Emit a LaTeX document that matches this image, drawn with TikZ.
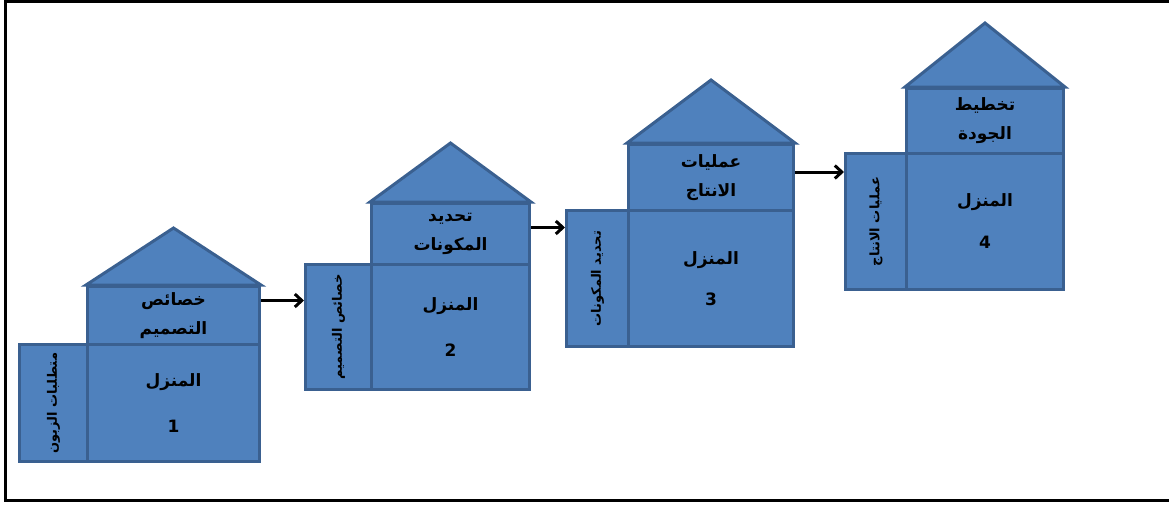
\documentclass[tikz,border=0pt]{standalone}
\usepackage{fontspec}
\usepackage{tikz}
\usetikzlibrary{arrows.meta}
\TeXXeTstate=1
\newfontfamily\arabicfont[Script=Arabic]{DejaVu Sans}
\newcommand{\artext}[1]{\beginR #1\endR}
\definecolor{houseblue}{HTML}{4F81BD}
\definecolor{houseedge}{HTML}{3A6090}
\tikzstyle{wall} = [draw=houseedge, fill=houseblue, line width=3pt, inner sep=0pt, anchor=north west]
\tikzstyle{roof} = [draw=houseedge, fill=houseblue, line width=3pt]
\tikzstyle{roomtext} = [font=\arabicfont\bfseries\fontsize{17}{29}\selectfont, align=center]
\tikzstyle{sidetext} = [font=\arabicfont\bfseries\fontsize{13}{15}\selectfont, rotate=90, inner sep=0pt]
\tikzstyle{flow} = [draw, -{Straight Barb[length=7pt,width=13pt]}, line width=3pt]

\begin{document}
\begin{tikzpicture}[x=1pt, y=-1pt]
	\useasboundingbox (0,0) rectangle (1169,506);
	% -------------- frame --------------
	\draw[line width=3pt] (1169,1.5) -- (5,1.5) -- (5,500) -- (1169,500);
	% -------------- House 1 --------------
	\node[wall, minimum width=68,  minimum height=117] (side1) at (18,343) {};
	\node[wall, minimum width=172, minimum height=58, roomtext]  (top1)  at (86,285) {\artext{خصائص}\\\artext{التصميم}};
	\node[wall, minimum width=172, minimum height=117, roomtext] (room1) at (86,343) {\artext{المنزل}\\[17pt]1};
	\draw[roof] (top1.north west) -- ([yshift=57pt]top1.north) -- (top1.north east) -- cycle;
	\node[sidetext] (tag1) at (side1) {\artext{متطلبات الزبون}};
	% -------------- House 2 --------------
	\node[wall, minimum width=66,  minimum height=125] (side2) at (304,263) {};
	\node[wall, minimum width=158, minimum height=61, roomtext]  (top2)  at (370,202) {\artext{تحديد}\\\artext{المكونات}};
	\node[wall, minimum width=158, minimum height=125, roomtext] (room2) at (370,263) {\artext{المنزل}\\[17pt]2};
	\draw[roof] (top2.north west) -- ([yshift=59pt]top2.north) -- (top2.north east) -- cycle;
	\node[sidetext] (tag2) at (side2) {\artext{خصائص التصميم}};
	% -------------- House 3 --------------
	\node[wall, minimum width=62,  minimum height=136] (side3) at (565,209) {};
	\node[wall, minimum width=165, minimum height=66, roomtext]  (top3)  at (627,143) {\artext{عمليات}\\\artext{الانتاج}};
	\node[wall, minimum width=165, minimum height=136, roomtext] (room3) at (627,209) {\artext{المنزل}\\[12pt]3};
	\draw[roof] (top3.north west) -- ([yshift=63pt]top3.north) -- (top3.north east) -- cycle;
	\node[sidetext] (tag3) at (side3) {\artext{تحديد المكونات}};
	% -------------- House 4 --------------
	\node[wall, minimum width=61,  minimum height=136] (side4) at (844,152) {};
	\node[wall, minimum width=157, minimum height=65, roomtext]  (top4)  at (905,87) {\artext{تخطيط}\\\artext{الجودة}};
	\node[wall, minimum width=157, minimum height=136, roomtext] (room4) at (905,152) {\artext{المنزل}\\[13pt]4};
	\draw[roof] (top4.north west) -- ([yshift=64pt]top4.north) -- (top4.north east) -- cycle;
	\node[sidetext] (tag4) at (side4) {\artext{عمليات الانتاج}};
	% -------------- arrows --------------
	\draw[flow] ([yshift=15pt]top1.east) -- ([yshift=15pt]top1.east -| side2.west);
	\draw[flow] ([yshift=6.5pt]top2.east) -- ([yshift=6.5pt]top2.east -| side3.west);
	\draw[flow] ([yshift=5.5pt]top3.east) -- ([yshift=5.5pt]top3.east -| side4.west);
\end{tikzpicture}
\end{document}
